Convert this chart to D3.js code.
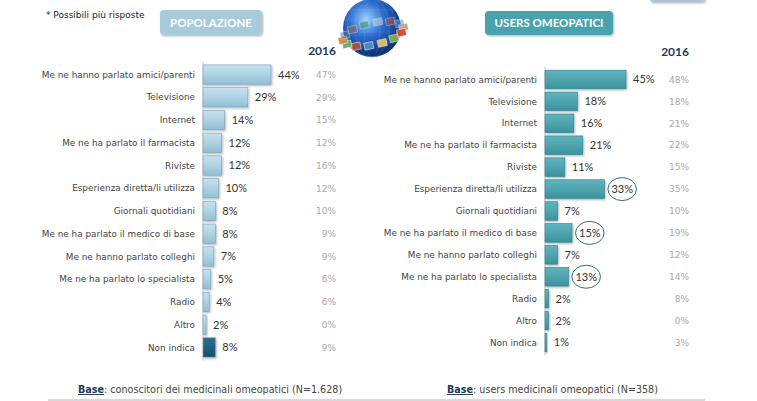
<!DOCTYPE html>
<html>
<head>
<meta charset="utf-8">
<script src="https://cdn.jsdelivr.net/npm/d3@7"></script>
<style>
  body { margin: 0; background: #fff; }
  svg { display: block; font-family: Lato, "Noto Sans", sans-serif; }
  .wide { font-family: "DejaVu Sans", Lato, sans-serif; }
</style>
</head>
<body>
<script>
// Data
const categories = [
  'Me ne hanno parlato amici/parenti',
  'Televisione',
  'Internet',
  'Me ne ha parlato il farmacista',
  'Riviste',
  'Esperienza diretta/li utilizza',
  'Giornali quotidiani',
  'Me ne ha parlato il medico di base',
  'Me ne hanno parlato colleghi',
  'Me ne ha parlato lo specialista',
  'Radio',
  'Altro',
  'Non indica'
];
const popolazione = [44, 29, 14, 12, 12, 10, 8, 8, 7, 5, 4, 2, 8];
const popolazione2016 = [47, 29, 15, 12, 16, 12, 10, 9, 9, 6, 6, 0, 9];
const users = [45, 18, 16, 21, 11, 33, 7, 15, 7, 13, 2, 2, 1];
const users2016 = [48, 18, 21, 22, 15, 35, 10, 19, 12, 14, 8, 0, 3];
const usersCircled = ['Esperienza diretta/li utilizza', 'Me ne ha parlato il medico di base', 'Me ne ha parlato lo specialista'];

const width = 757;
const height = 401;

const svg = d3.select('body')
  .append('svg')
  .attr('width', width)
  .attr('height', height);

const defs = svg.append('defs');

const addGradient = (id, top, bottom) => {
  const grad = defs.append('linearGradient')
    .attr('id', id)
    .attr('x1', 0).attr('y1', 0).attr('x2', 0).attr('y2', 1);
  grad.append('stop').attr('offset', '0%').attr('stop-color', top);
  grad.append('stop').attr('offset', '45%').attr('stop-color', d3.interpolate(top, bottom)(0.4));
  grad.append('stop').attr('offset', '100%').attr('stop-color', bottom);
}
addGradient('gradLight', '#c6e2ee', '#90bfd5');
addGradient('gradDark', '#2d6f8d', '#164e69');
addGradient('gradTeal', '#5fb4be', '#3a929e');

const shadow = defs.append('filter').attr('id', 'shadow')
  .attr('x', '-20%').attr('y', '-20%').attr('width', '160%').attr('height', '160%');
shadow.append('feDropShadow')
  .attr('dx', 1).attr('dy', 1.2).attr('stdDeviation', 0.8)
  .attr('flood-color', '#000').attr('flood-opacity', 0.3);

// Header bits
svg.append('text')
  .attr('class', 'wide')
  .attr('x', 46).attr('y', 18)
  .attr('font-size', 9).attr('fill', '#222')
  .text('* Possibili più risposte');

const titleBox = (x, y, w, h, fill, label) => {
  svg.append('rect')
    .attr('x', x).attr('y', y).attr('width', w).attr('height', h)
    .attr('rx', 4).attr('fill', fill)
    .attr('filter', 'url(#shadow)');
  svg.append('text')
    .attr('x', x + w / 2).attr('y', y + h / 2)
    .attr('dy', '0.36em')
    .attr('text-anchor', 'middle')
    .attr('font-size', 11.5).attr('font-weight', 'bold')
    .attr('fill', '#fff')
    .text(label);
}
titleBox(160, 10, 102, 25, '#a7cbd9', 'POPOLAZIONE');
titleBox(485, 11, 128, 24, '#4aa3ae', 'USERS OMEOPATICI');

svg.append('rect')
  .attr('x', 650).attr('y', -10).attr('width', 55).attr('height', 12)
  .attr('rx', 3).attr('fill', '#a9c4d9').attr('filter', 'url(#shadow)');

// Globe decoration
const globe = svg.append('g').attr('transform', 'translate(372,28)');
const globeGrad = defs.append('radialGradient').attr('id', 'globeGrad')
  .attr('cx', '40%').attr('cy', '35%').attr('r', '65%');
globeGrad.append('stop').attr('offset', '0%').attr('stop-color', '#9fd4ff');
globeGrad.append('stop').attr('offset', '45%').attr('stop-color', '#2d6fd0');
globeGrad.append('stop').attr('offset', '100%').attr('stop-color', '#0b2a6b');
globe.append('circle').attr('r', 29).attr('fill', 'url(#globeGrad)');
[8, 17, 25].forEach(rx => {
  globe.append('ellipse').attr('rx', rx).attr('ry', 29)
    .attr('fill', 'none').attr('stroke', '#7fb8f0').attr('stroke-opacity', 0.35).attr('stroke-width', 0.6);
});
[-18, -8, 4, 15].forEach(cy => {
  const r = Math.sqrt(29 * 29 - cy * cy);
  globe.append('line').attr('x1', -r).attr('x2', r).attr('y1', cy).attr('y2', cy)
    .attr('stroke', '#7fb8f0').attr('stroke-opacity', 0.35).attr('stroke-width', 0.6);
});
const photoColors = ['#c8a070', '#d9452e', '#7fae4c', '#e0c060', '#4f8fc0', '#b05030', '#68a87a', '#d88a3a', '#4a7cae', '#9b6b4a', '#3e9b5c', '#cfcfcf', '#c04a3a', '#5aa0c8'];
const ring = globe.append('g').attr('transform', 'rotate(-12)');
d3.range(14).forEach(i => {
  const a = (i / 14) * 2 * Math.PI;
  const px = Math.cos(a) * 31;
  const py = Math.sin(a) * 11 + 6;
  const front = Math.sin(a) > -0.2;
  ring.append('rect')
    .attr('x', px - 4.5).attr('y', py - 3.5)
    .attr('width', 9).attr('height', 7)
    .attr('fill', photoColors[i])
    .attr('stroke', '#fff').attr('stroke-width', 0.5)
    .attr('opacity', front ? 0.95 : 0.55);
});

// One panel of bars
const drawPanel = (opts) => {
  const g = svg.append('g');
  const y = d3.scaleBand()
    .domain(categories)
    .range(opts.yRange)
    .padding(0.15);
  const x = d3.scaleLinear()
    .domain([0, opts.maxValue])
    .range([opts.x0, opts.x0 + opts.maxWidth]);

  g.append('line')
    .attr('x1', opts.x0).attr('x2', opts.x0)
    .attr('y1', opts.yRange[0]).attr('y2', opts.yRange[1])
    .attr('stroke', '#c8c8c8').attr('stroke-width', 1);

  const rows = g.selectAll('.row')
    .data(categories.map((c, i) => ({ cat: c, v: opts.values[i], old: opts.old[i] })))
    .enter().append('g').attr('class', 'row');

  rows.append('text')
    .attr('class', 'wide')
    .attr('x', opts.x0 - 8)
    .attr('y', d => y(d.cat) + y.bandwidth() / 2)
    .attr('dy', '0.35em')
    .attr('text-anchor', 'end')
    .attr('font-size', 8.9).attr('fill', '#444')
    .text(d => d.cat);

  rows.append('rect')
    .attr('x', x(0))
    .attr('y', d => y(d.cat))
    .attr('width', d => Math.max(1, x(d.v) - x(0)))
    .attr('height', y.bandwidth())
    .attr('fill', d => opts.fill(d))
    .attr('stroke', opts.stroke).attr('stroke-width', 0.6)
    .attr('filter', 'url(#shadow)');

  const values = rows.append('text')
    .attr('x', d => x(d.v) + 7)
    .attr('y', d => y(d.cat) + y.bandwidth() / 2)
    .attr('dy', '0.36em')
    .attr('font-size', 11).attr('fill', '#333')
    .text(d => d.v + '%');

  rows.append('text')
    .attr('class', 'wide')
    .attr('x', opts.oldX)
    .attr('y', d => y(d.cat) + y.bandwidth() / 2)
    .attr('dy', '0.36em')
    .attr('text-anchor', 'end')
    .attr('font-size', 9).attr('fill', '#a8a8a8')
    .text(d => d.old + '%');

  g.append('text')
    .attr('x', opts.oldX).attr('y', opts.headY)
    .attr('text-anchor', 'end')
    .attr('font-size', 12).attr('font-weight', 'bold')
    .attr('fill', '#1f3a55')
    .text('2016');

  // circled values
  values.each(function (d) {
    if (!opts.circled.includes(d.cat)) return;
    const w = this.getComputedTextLength();
    g.append('ellipse')
      .attr('cx', x(d.v) + 7 + w / 2)
      .attr('cy', y(d.cat) + y.bandwidth() / 2)
      .attr('rx', w / 2 + 3.5).attr('ry', 11.5)
      .attr('fill', 'none')
      .attr('stroke', '#2e6f82').attr('stroke-width', 1);
  });
}

drawPanel({
  values: popolazione,
  old: popolazione2016,
  x0: 203, maxValue: 44, maxWidth: 68,
  yRange: [61.5, 360.5],
  oldX: 336, headY: 55,
  fill: d => d.cat === 'Non indica' ? 'url(#gradDark)' : 'url(#gradLight)',
  stroke: '#7d9fb1',
  circled: []
});

drawPanel({
  values: users,
  old: users2016,
  x0: 545, maxValue: 45, maxWidth: 81,
  yRange: [66.9, 355.1],
  oldX: 689, headY: 56,
  fill: () => 'url(#gradTeal)',
  stroke: '#357f89',
  circled: usersCircled
});

// Footer
const baseNote = (x, text) => {
  const t = svg.append('text')
    .attr('class', 'wide')
    .attr('x', x).attr('y', 393)
    .attr('font-size', 9.6).attr('fill', '#444');
  t.append('tspan')
    .attr('font-weight', 'bold').attr('fill', '#1f3a55')
    .attr('text-decoration', 'underline')
    .text('Base');
  t.append('tspan').text(': ' + text);
}
baseNote(78, 'conoscitori dei medicinali omeopatici (N=1.628)');
baseNote(447, 'users medicinali omeopatici (N=358)');

svg.append('line')
  .attr('x1', 48).attr('x2', 705)
  .attr('y1', 400).attr('y2', 400)
  .attr('stroke', '#cccccc').attr('stroke-width', 1.5);
</script>
</body>
</html>
